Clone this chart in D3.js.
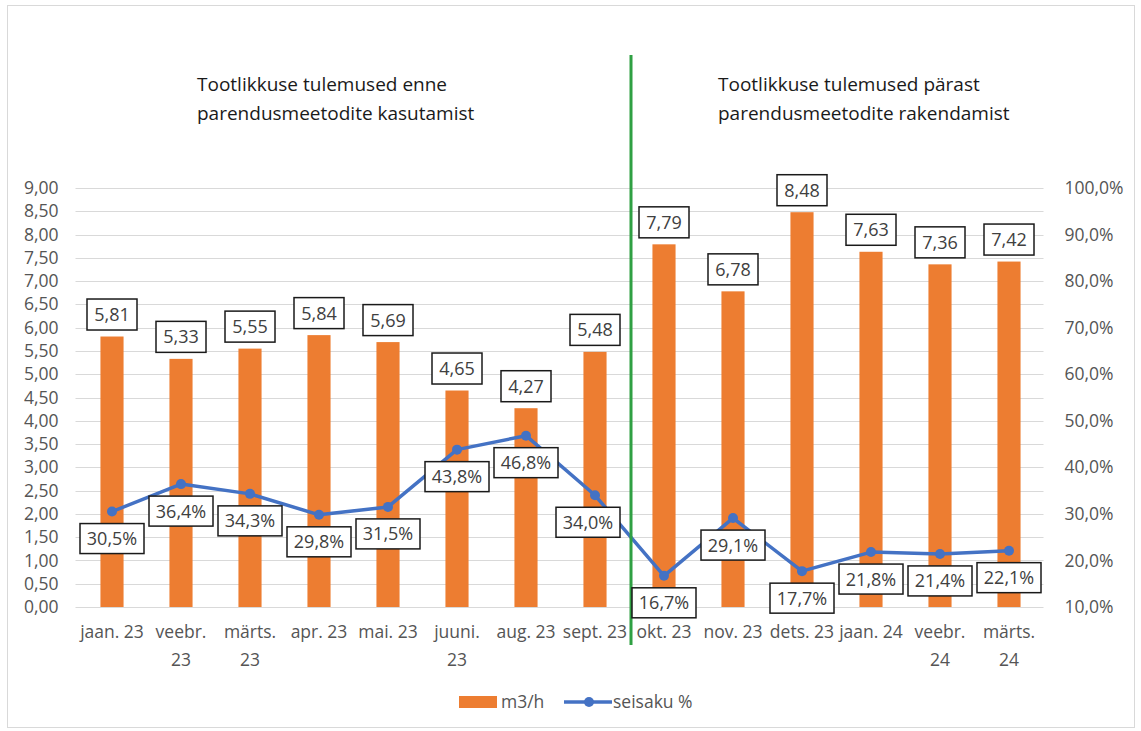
<!DOCTYPE html>
<html>
<head>
<meta charset="utf-8">
<script src="https://cdn.jsdelivr.net/npm/d3@7"></script>
<style>
  html, body { margin: 0; padding: 0; background: #fff; }
  svg { display: block; }
  text { font-family: "Open Sans", "Liberation Sans", sans-serif; }
</style>
</head>
<body>
<svg id="chart" width="1141" height="731"></svg>
<script>
// Monthly production rate (m3/h) and downtime share (seisaku %)
const categories = ["jaan. 23", "veebr. 23", "märts. 23", "apr. 23", "mai. 23", "juuni. 23", "aug. 23",
                    "sept. 23", "okt. 23", "nov. 23", "dets. 23", "jaan. 24", "veebr. 24", "märts. 24"];
const rateValues = [5.81, 5.33, 5.55, 5.84, 5.69, 4.65, 4.27, 5.48, 7.79, 6.78, 8.48, 7.63, 7.36, 7.42];
const downtimeValues = [30.5, 36.4, 34.3, 29.8, 31.5, 43.8, 46.8, 34.0, 16.7, 29.1, 17.7, 21.8, 21.4, 22.1];
const leftTicks = [0, 0.5, 1, 1.5, 2, 2.5, 3, 3.5, 4, 4.5, 5, 5.5, 6, 6.5, 7, 7.5, 8, 8.5, 9];
const rightTicks = [10, 20, 30, 40, 50, 60, 70, 80, 90, 100];
const seriesNames = ["m3/h", "seisaku %"];
const titleBefore = ["Tootlikkuse tulemused enne", "parendusmeetodite kasutamist"];
const titleAfter = ["Tootlikkuse tulemused pärast", "parendusmeetodite rakendamist"];
const splitIndex = 8; // first month after the improvements

const ORANGE = "#ED7D31", BLUE = "#4472C4", GREEN = "#2FA043";
const GRID = "#D9D9D9", AXIS_TEXT = "#555555", LABEL_TEXT = "#404040";

const svg = d3.select("#chart");
const comma = v => v.replace(".", ",");
const fmt2 = v => comma(d3.format(".2f")(v));
const fmtPct = v => comma(d3.format(".1f")(v)) + "%";

// chart frame
svg.append("rect").attr("x", 7.5).attr("y", 5.5).attr("width", 1127).attr("height", 722)
  .attr("fill", "#fff").attr("stroke", "#D9D9D9").attr("stroke-width", 1);

const plot = { left: 77.5, right: 1043.5, top: 188, bottom: 607 };

const x = d3.scaleBand().domain(categories).range([plot.left, plot.right]).paddingInner(0).paddingOuter(0);
const yL = d3.scaleLinear().domain([0, 9]).range([plot.bottom, plot.top]);
const yR = d3.scaleLinear().domain([10, 100]).range([plot.bottom, plot.top]);

// horizontal gridlines
svg.append("g").selectAll("line").data(leftTicks).join("line")
  .attr("x1", plot.left - 2).attr("x2", plot.right)
  .attr("y1", d => Math.round(yL(d)) + 0.5).attr("y2", d => Math.round(yL(d)) + 0.5)
  .attr("stroke", GRID).attr("stroke-width", 1);

// left axis
const leftAxis = svg.append("g").attr("transform", `translate(${plot.left - 19},0)`)
  .call(d3.axisLeft(yL).tickValues(leftTicks).tickFormat(fmt2).tickSize(0).tickPadding(0));
leftAxis.select(".domain").remove();
leftAxis.selectAll("text").attr("fill", AXIS_TEXT).style("font-size", "17.5px")
  .style("font-family", '"Open Sans", sans-serif');

// right axis
const rightAxis = svg.append("g").attr("transform", `translate(${plot.right + 21},0)`)
  .call(d3.axisRight(yR).tickValues(rightTicks).tickFormat(d => comma(d3.format(".1f")(d)) + "%").tickSize(0).tickPadding(0));
rightAxis.select(".domain").remove();
rightAxis.selectAll("text").attr("fill", AXIS_TEXT).style("font-size", "17.5px")
  .style("font-family", '"Open Sans", sans-serif');

// bottom category labels, wrapped onto two lines when long
const xAxis = svg.append("g").attr("transform", `translate(0,${plot.bottom})`)
  .call(d3.axisBottom(x).tickSize(0).tickPadding(0).tickFormat(""));
xAxis.select(".domain").remove();
xAxis.selectAll(".tick").each(function(d) {
  const parts = d.length > 8 ? d.split(" ") : [d];
  const t = d3.select(this).append("text").attr("fill", AXIS_TEXT)
    .attr("text-anchor", "middle").style("font-size", "17.5px");
  parts.forEach((p, i) => t.append("tspan").attr("x", 0).attr("y", 31 + i * 28).text(p));
});

// bars
const barW = x.bandwidth() * 0.335;
svg.append("g").selectAll("rect").data(rateValues).join("rect")
  .attr("x", (d, i) => x(categories[i]) + x.bandwidth() / 2 - barW / 2)
  .attr("width", barW)
  .attr("y", d => yL(d))
  .attr("height", d => yL(0) - yL(d))
  .attr("fill", ORANGE);

// downtime line with markers
const cx = i => x(categories[i]) + x.bandwidth() / 2;
const line = d3.line().x((d, i) => cx(i)).y(d => yR(d));
svg.append("path").datum(downtimeValues).attr("d", line)
  .attr("fill", "none").attr("stroke", BLUE).attr("stroke-width", 3.5).attr("stroke-linejoin", "round");
svg.append("g").selectAll("circle").data(downtimeValues).join("circle")
  .attr("cx", (d, i) => cx(i)).attr("cy", d => yR(d)).attr("r", 5).attr("fill", BLUE);

// boxed data labels
function boxedLabel(g, cxv, cyv, text, w, h) {
  const grp = g.append("g").attr("transform", `translate(${cxv},${cyv})`);
  grp.append("rect").attr("x", -w / 2).attr("y", -h / 2).attr("width", w).attr("height", h)
    .attr("fill", "#fff").attr("stroke", "#1a1a1a").attr("stroke-width", 1.5);
  grp.append("text").attr("text-anchor", "middle").attr("dy", "0.36em")
    .attr("fill", LABEL_TEXT).style("font-size", "18px").text(text);
}

// green divider between the two periods
const divX = x(categories[splitIndex]) + 1.5;
svg.append("line").attr("x1", divX).attr("x2", divX).attr("y1", 55).attr("y2", 645)
  .attr("stroke", GREEN).attr("stroke-width", 3);

const labels = svg.append("g");
rateValues.forEach((v, i) => boxedLabel(labels, cx(i), yL(v) - 22, fmt2(v), 50, 31));
downtimeValues.forEach((v, i) => {
  const shift = i === 7 ? -7 : 0;
  boxedLabel(labels, cx(i) + shift, yR(v) + 27, fmtPct(v), 64, 30);
});

// period titles
function title(lines, x0, y0) {
  const t = svg.append("text").attr("fill", "#1a1a1a").style("font-size", "19px");
  lines.forEach((l, i) => t.append("tspan").attr("x", x0).attr("y", y0 + i * 29).text(l));
}
title(titleBefore, 197, 91);
title(titleAfter, 718, 91);

// legend
const leg = svg.append("g").attr("transform", "translate(0,702)");
leg.append("rect").attr("x", 459).attr("y", -6).attr("width", 38).attr("height", 12).attr("fill", ORANGE);
leg.append("text").attr("x", 501).attr("dy", "0.35em").attr("fill", AXIS_TEXT).style("font-size", "17.5px").text(seriesNames[0]);
leg.append("line").attr("x1", 564).attr("x2", 612).attr("y1", 0).attr("y2", 0)
  .attr("stroke", BLUE).attr("stroke-width", 3.5);
leg.append("circle").attr("cx", 589).attr("cy", 0).attr("r", 5).attr("fill", BLUE);
leg.append("text").attr("x", 613).attr("dy", "0.35em").attr("fill", AXIS_TEXT).style("font-size", "17.5px").text(seriesNames[1]);
</script>
</body>
</html>
